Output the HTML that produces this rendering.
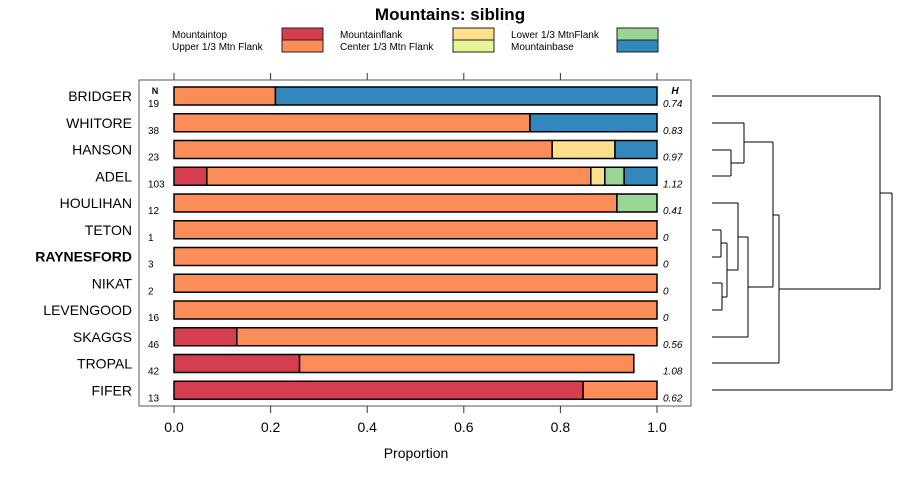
<!DOCTYPE html>
<html><head><meta charset="utf-8"><style>
body{margin:0;background:#fff;}
svg{display:block;font-family:"Liberation Sans",Arial,sans-serif;}
</style></head><body>
<svg id="chart" width="900" height="480">
<text x="450" y="20" text-anchor="middle" font-size="17" font-weight="bold">Mountains: sibling</text>
<g id="legend"></g>
<rect x="139" y="80" width="552" height="326" fill="none" stroke="#555" stroke-width="1"/>
<g id="bars"></g>
<g id="axis"></g>
<g id="dendro" stroke="#000" stroke-width="1" fill="none"></g>
<text x="416" y="458" text-anchor="middle" font-size="14">Proportion</text>
<text x="155" y="94" text-anchor="middle" font-size="9" font-weight="bold">N</text>
<text x="675" y="94" text-anchor="middle" font-size="10" font-weight="bold" font-style="italic">H</text>
</svg>
<script>
const categories=["BRIDGER","WHITORE","HANSON","ADEL","HOULIHAN","TETON","RAYNESFORD","NIKAT","LEVENGOOD","SKAGGS","TROPAL","FIFER"];
const nValues=[19,38,23,103,12,1,3,2,16,46,42,13];
const hValues=["0.74","0.83","0.97","1.12","0.41","0","0","0","0","0.56","1.08","0.62"];
const seriesNames=["Mountaintop","Upper 1/3 Mtn Flank","Mountainflank","Center 1/3 Mtn Flank","Lower 1/3 MtnFlank","Mountainbase"];
const seriesColors=["#d53e4f","#fc8d59","#fee08b","#e6f598","#99d594","#3288bd"];
const sMountaintop=[0,0,0,0.068,0,0,0,0,0,0.13,0.26,0.847];
const sUpper=[0.21,0.737,0.783,0.795,0.917,1,1,1,1,0.87,0.692,0.153];
const sFlank=[0,0,0.13,0.029,0,0,0,0,0,0,0,0];
const sCenter=[0,0,0,0,0,0,0,0,0,0,0,0];
const sLower=[0,0,0,0.04,0.083,0,0,0,0,0,0,0];
const sBase=[0.79,0.263,0.087,0.068,0,0,0,0,0,0,0,0];
const ticks=[0,0.2,0.4,0.6,0.8,1.0];
const tickLabels=["0.0","0.2","0.4","0.6","0.8","1.0"];
const series=[sMountaintop,sUpper,sFlank,sCenter,sLower,sBase];
const NS="http://www.w3.org/2000/svg";
const x=v=>174+v*483;
const y=i=>96+i*26.75;
function mk(tag,attrs,parent,txt){const e=document.createElementNS(NS,tag);for(const k in attrs)e.setAttribute(k,attrs[k]);if(txt!==undefined)e.textContent=txt;parent.appendChild(e);return e;}
const bars=document.getElementById('bars');
categories.forEach((c,i)=>{
  const bold=c==="RAYNESFORD";
  const t=mk('text',{x:132,y:y(i)+5,'text-anchor':'end','font-size':14,'font-weight':bold?'bold':'normal'},bars,c);
  
  
  const n=mk('text',{x:148,y:y(i)+11,'font-size':10},bars,nValues[i]);
  
  
  const h=mk('text',{x:663,y:y(i)+11,'font-size':10,'font-style':'italic'},bars,hValues[i]);
  
  
  let cum=0;
  series.forEach((s,j)=>{
    const v=s[i]; if(v<=0) return;
    const r=mk('rect',{x:x(cum),y:y(i)-9,width:x(cum+v)-x(cum),height:18,fill:seriesColors[j],stroke:'#000','stroke-width':1.5},bars);
    
    
    cum+=v;
  });
});
const axis=document.getElementById('axis');
ticks.forEach((t,i)=>{
  mk('line',{x1:x(t),x2:x(t),y1:73,y2:80,stroke:'#333'},axis);
  mk('line',{x1:x(t),x2:x(t),y1:406,y2:413,stroke:'#333'},axis);
  const l=mk('text',{x:x(t),y:432,'text-anchor':'middle','font-size':14},axis,tickLabels[i]);
  
  
});
const lg=document.getElementById('legend');
const cols=[[172,282],[340,453],[511,617]];
seriesNames.forEach((nm,j)=>{
  const c=Math.floor(j/2),r=j%2;
  const t=mk('text',{x:cols[c][0],y:38+r*12,'font-size':10},lg,nm);
  
  
  mk('rect',{x:cols[c][1],y:28+r*12,width:41,height:12,fill:seriesColors[j],stroke:'#222','stroke-width':1},lg);
});
const d=document.getElementById('dendro');
const segs=[[712,96,880,96],[712,123,744,123],[712,150,731,150],[712,176,731,176],[731,150,731,176],[731,163,744,163],[744,123,744,163],[744,142,773,142],
[712,203,738,203],[712,230,721,230],[712,257,721,257],[721,230,721,257],[721,243,727,243],[712,283,722,283],[712,310,722,310],[722,283,722,310],[722,297,727,297],[727,243,727,297],[727,270,738,270],[738,203,738,270],[738,237,748,237],[712,337,748,337],[748,237,748,337],[748,287,773,287],[773,142,773,287],[773,215,779,215],[712,363,779,363],[779,215,779,363],[779,289,880,289],[880,96,880,289],[880,193,892,193],[712,390,892,390],[892,193,892,390]];
segs.forEach(s=>mk('line',{x1:s[0],y1:s[1],x2:s[2],y2:s[3]},d));
</script>
</body></html>
